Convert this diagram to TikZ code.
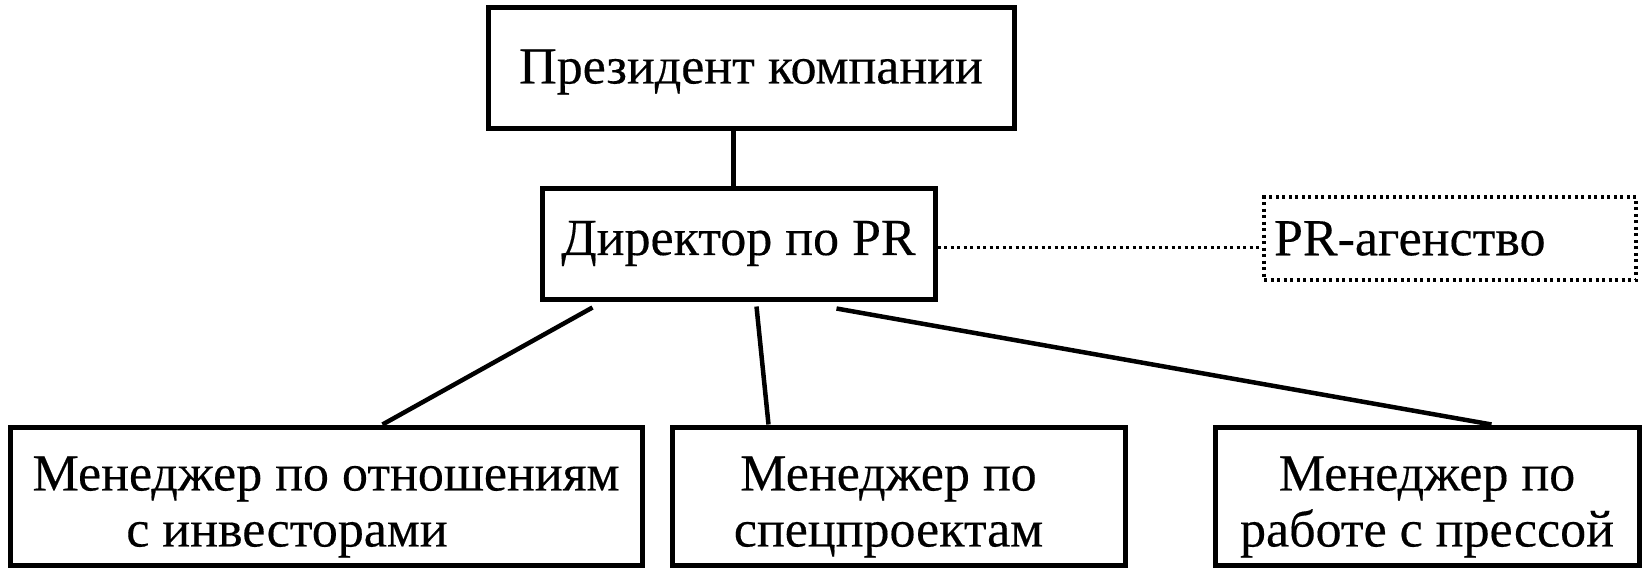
\documentclass[tikz,border=0pt]{standalone}
\usepackage{fontspec}
\setmainfont{Liberation Serif}[FakeBold=0.3]
\usetikzlibrary{calc}
\newcommand{\lowerby}[1]{\rule{0pt}{#1}}
\tikzstyle{post} = [rectangle, draw=black, line width=5pt, inner sep=0pt, align=center, font=\fontsize{52}{56}\selectfont]
\tikzstyle{outside} = [rectangle, draw=black, line width=3.5pt, dash pattern=on 3pt off 3.5pt, inner ysep=0pt, inner xsep=10pt, align=left, font=\fontsize{52}{56}\selectfont]
\tikzstyle{link} = [line width=4.5pt]
\tikzstyle{link dotted} = [line width=3.5pt, dash pattern=on 3pt off 3.5pt]

\begin{document}
\begin{tikzpicture}[x=1pt, y=-1pt]
\useasboundingbox (0,0) rectangle (1647,574);
% PR department chart
\node (president) [post, minimum width=526pt, minimum height=121pt] at (751,67.5) {\lowerby{43pt}Президент компании};
\node (director) [post, minimum width=393pt, minimum height=111pt] at (738.5,243.5) {Директор по PR};
\node (agency) [outside, text width=352pt, minimum height=83pt] at (1450,238.5) {PR-агенство};
\node (investors) [post, minimum width=632pt, minimum height=138pt] at (326,496) {\lowerby{56pt}Менеджер по отношениям\\с инвесторами\hspace*{78pt}};
\node (projects) [post, minimum width=453pt, minimum height=138pt] at (898.5,496) {\lowerby{56pt}Менеджер по\hspace*{20pt}\\спецпроектам\hspace*{20pt}};
\node (press) [post, minimum width=424pt, minimum height=138pt] at (1427,496) {\lowerby{56pt}Менеджер по\\работе с прессой};

\draw[link] ($(president.south west)+(248,0)$) -- ($(director.north west)+(194,0)$);
\draw[link dotted] ($(director.east)+(0,4)$) -- ($(agency.west)+(0,9)$);
\draw[link] ($(director.south west)+(53,6)$) -- ($(investors.north west)+(375,0)$);
\draw[link] ($(director.south west)+(217,5)$) -- ($(projects.north west)+(99,0)$);
\draw[link] ($(director.south west)+(297,7)$) -- ($(press.north west)+(279,0)$);
\end{tikzpicture}
\end{document}
